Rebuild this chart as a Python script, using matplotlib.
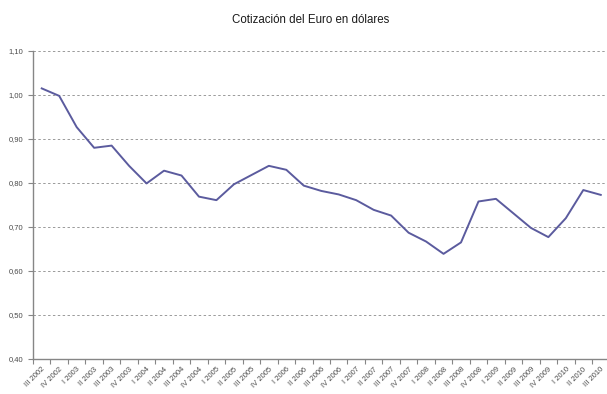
import matplotlib

matplotlib.use("Agg")
import matplotlib.pyplot as plt  # noqa: E402
from matplotlib.ticker import FixedLocator, FuncFormatter  # noqa: E402

plt.rcParams["font.family"] = ["Liberation Sans", "DejaVu Sans"]

QUARTERS = ["III 2002", "IV 2002",
            "I 2003", "II 2003", "III 2003", "IV 2003",
            "I 2004", "II 2004", "III 2004", "IV 2004",
            "I 2005", "II 2005", "III 2005", "IV 2005",
            "I 2006", "II 2006", "III 2006", "IV 2006",
            "I 2007", "II 2007", "III 2007", "IV 2007",
            "I 2008", "II 2008", "III 2008", "IV 2008",
            "I 2009", "II 2009", "III 2009", "IV 2009",
            "I 2010", "II 2010", "III 2010"]
EUR_USD = [1.015, 0.998, 0.927, 0.880, 0.885, 0.839, 0.799, 0.828, 0.817,
           0.769, 0.761, 0.797, 0.818, 0.839, 0.830, 0.794, 0.782, 0.774,
           0.761, 0.739, 0.726, 0.687, 0.667, 0.639, 0.665, 0.758, 0.764,
           0.731, 0.698, 0.677, 0.720, 0.784, 0.773]

GREY = "#868686"

fig = plt.figure(figsize=(6.07, 3.94), dpi=100)
ax = fig.add_axes([33 / 607, 35 / 394, 576.5 / 607, 308 / 394])

x = range(len(QUARTERS))
ax.plot(x, EUR_USD, color="#5b5b9e", linewidth=1.4, solid_joinstyle="round")

ax.set_xlim(-0.5, len(QUARTERS) - 0.5)
ax.set_ylim(0.40, 1.10)
ax.set_yticks([0.40 + 0.1 * i for i in range(8)])
ax.yaxis.set_major_formatter(FuncFormatter(lambda v, _: f"{v:.2f}".replace(".", ",")))
ax.set_xticks(list(x))
ax.set_xticklabels(QUARTERS, rotation=45, ha="right", rotation_mode="anchor")
ax.xaxis.set_minor_locator(FixedLocator([i - 0.5 for i in range(len(QUARTERS) + 1)]))
ax.tick_params(axis="x", which="major", length=0, pad=5, labelsize=5.5, labelcolor="#4a4a4a")
ax.tick_params(axis="x", which="minor", length=3.5, color=GREY, width=0.8)
ax.tick_params(axis="y", length=3.5, color=GREY, width=0.8, labelsize=5.5, labelcolor="#4a4a4a")

ax.grid(axis="y", linestyle=(0, (2.5, 2.5)), color="#9a9a9a", linewidth=0.7)
ax.set_axisbelow(True)
for side in ("top", "right"):
    ax.spines[side].set_visible(False)
for side in ("left", "bottom"):
    ax.spines[side].set_color(GREY)
    ax.spines[side].set_linewidth(1.0)

fig.text(311 / 607, 1 - 20 / 394, "Cotización del Euro en dólares",
         ha="center", va="center", fontsize=8.3, color="#1a1a1a")

fig.savefig("out.png", dpi=100)
